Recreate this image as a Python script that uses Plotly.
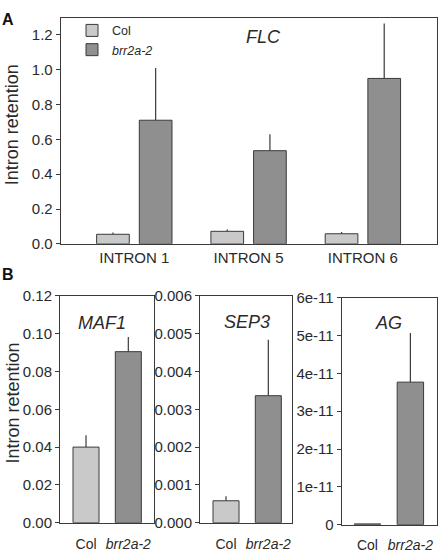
import plotly.graph_objects as go

# ---------------- data ----------------
introns = ["INTRON 1", "INTRON 5", "INTRON 6"]
flc_col = [0.055, 0.072, 0.058]
flc_col_err = [0.010, 0.010, 0.010]
flc_brr = [0.71, 0.535, 0.95]
flc_brr_err = [0.30, 0.095, 0.315]

genotypes = ["Col", "brr2a-2"]
genotype_labels = ["Col", "<i>brr2a-2</i>"]
maf1_vals = [0.040, 0.0905]
maf1_err = [0.0063, 0.0078]
sep3_vals = [0.00058, 0.00336]
sep3_err = [0.00012, 0.00148]
ag_vals = [2e-13, 3.77e-11]
ag_err = [0.0, 1.3e-11]

ag_tickvals = [0, 1e-11, 2e-11, 3e-11, 4e-11, 5e-11, 6e-11]
ag_ticktext = ["0", "1e-11", "2e-11", "3e-11", "4e-11", "5e-11", "6e-11"]

# ---------------- style ----------------
W, H = 440, 553
FONT = "Liberation Sans, Arial, Helvetica, sans-serif"
COL_FILL = "#c9c9c9"
BRR_FILL = "#8f8f8f"
EDGE = "#3a3a3a"
TXT = "#2a2a2a"


def px_x(p):
    return p / W


def px_y(p):
    return 1 - p / H


fig = go.Figure()

bw = 0.286
gap = 0.0875

# Panel A
fig.add_trace(go.Bar(
    x=introns, y=flc_col, name="Col", xaxis="x", yaxis="y",
    width=bw, offset=-gap / 2 - bw,
    marker=dict(color=COL_FILL, line=dict(color=EDGE, width=1)),
    error_y=dict(type="data", array=flc_col_err, arrayminus=[0] * 3,
                 symmetric=False, width=0, thickness=1.2, color=EDGE),
))
fig.add_trace(go.Bar(
    x=introns, y=flc_brr, name="<i>brr2a-2</i>", xaxis="x", yaxis="y",
    width=bw, offset=gap / 2,
    marker=dict(color=BRR_FILL, line=dict(color=EDGE, width=1)),
    error_y=dict(type="data", array=flc_brr_err, arrayminus=[0] * 3,
                 symmetric=False, width=0, thickness=1.2, color=EDGE),
))

# Panel B
bwb = 0.615
for vals, errs, xa, ya in [(maf1_vals, maf1_err, "x2", "y2"),
                           (sep3_vals, sep3_err, "x3", "y3"),
                           (ag_vals, ag_err, "x4", "y4")]:
    fig.add_trace(go.Bar(
        x=genotypes, y=vals, xaxis=xa, yaxis=ya, showlegend=False,
        width=bwb,
        marker=dict(color=[COL_FILL, BRR_FILL], line=dict(color=EDGE, width=1)),
        error_y=dict(type="data", array=errs, arrayminus=[0, 0],
                     symmetric=False, width=0, thickness=1.2, color=EDGE),
    ))

base_axis = dict(showline=True, linecolor=EDGE, linewidth=1, mirror=True,
                 showgrid=False, zeroline=False)
ytick = dict(family=FONT, size=15, color=TXT)
xtickA = dict(family=FONT, size=15, color=TXT)
xtickB = dict(family=FONT, size=14, color=TXT)
hidden_ticks = dict(ticks="outside", ticklen=8, tickcolor="rgba(0,0,0,0)")

fig.update_layout(
    width=W, height=H,
    margin=dict(l=0, r=0, t=0, b=0),
    paper_bgcolor="white", plot_bgcolor="white",
    barmode="overlay",
    font=dict(family=FONT, color=TXT),
    showlegend=True,
    legend=dict(x=px_x(72), y=px_y(7), xanchor="left", yanchor="top",
                bgcolor="rgba(0,0,0,0)", font=dict(size=12.5, family=FONT, color=TXT),
                tracegroupgap=0, itemwidth=30),
    xaxis=dict(domain=[px_x(60.7), px_x(436.7)], anchor="y",
               range=[-0.644, 2.646], ticks="", tickfont=xtickA, **base_axis),
    yaxis=dict(domain=[px_y(242.3), px_y(9.3)], anchor="x",
               range=[0, 1.297], dtick=0.2, tickformat=".1f",
               ticks="outside", ticklen=4, tickcolor=EDGE, tickfont=ytick, **base_axis),
    xaxis2=dict(domain=[px_x(60), px_x(154)], anchor="y2",
                range=[-0.615, 1.607], **hidden_ticks,
                tickvals=genotypes, ticktext=genotype_labels, tickfont=xtickB, **base_axis),
    yaxis2=dict(domain=[px_y(530), px_y(296)], anchor="x2",
                range=[0, 0.12], dtick=0.02, tickformat=".2f",
                ticks="outside", ticklen=4, tickcolor=EDGE, tickfont=ytick, **base_axis),
    xaxis3=dict(domain=[px_x(200), px_x(292.3)], anchor="y3",
                range=[-0.615, 1.567], **hidden_ticks,
                tickvals=genotypes, ticktext=genotype_labels, tickfont=xtickB, **base_axis),
    yaxis3=dict(domain=[px_y(530), px_y(296)], anchor="x3",
                range=[0, 0.006], dtick=0.001, tickformat=".3f",
                ticks="outside", ticklen=4, tickcolor=EDGE, tickfont=ytick, **base_axis),
    xaxis4=dict(domain=[px_x(341.7), px_x(437)], anchor="y4",
                range=[-0.6, 1.62], **hidden_ticks,
                tickvals=genotypes, ticktext=genotype_labels, tickfont=xtickB, **base_axis),
    yaxis4=dict(domain=[px_y(532), px_y(298)], anchor="x4",
                range=[0, 6e-11], tickvals=ag_tickvals, ticktext=ag_ticktext,
                ticks="outside", ticklen=4, tickcolor=EDGE, tickfont=ytick, **base_axis),
)

ann = []


def paper_text(text, x, y, size, color=TXT, **kw):
    d = dict(text=text, x=px_x(x), y=px_y(y), xref="paper", yref="paper",
             xanchor="center", yanchor="middle", showarrow=False,
             font=dict(family=FONT, size=size, color=color))
    d.update(kw)
    ann.append(d)


paper_text("<b>A</b>", 8, 11, 16, color="#111")
paper_text("<b>B</b>", 8, 274, 16, color="#111")
paper_text("Intron retention", 12, 120, 18, textangle=-90)
paper_text("Intron retention", 13, 407, 18, textangle=-90)
paper_text("<i>FLC</i>", 263, 29, 18)
paper_text("<i>MAF1</i>", 102, 324, 18)
paper_text("<i>SEP3</i>", 247, 323, 18)
paper_text("<i>AG</i>", 388, 324, 18)
fig.update_layout(annotations=ann)

fig.write_html("out.html")
